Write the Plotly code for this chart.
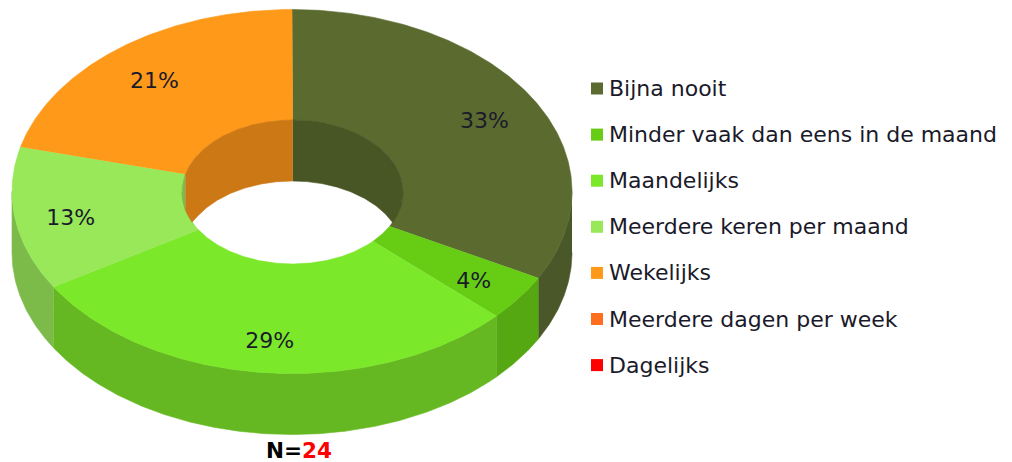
import math
import numpy as np
import plotly.graph_objects as go

categories = ["Bijna nooit", "Minder vaak dan eens in de maand", "Maandelijks",
              "Meerdere keren per maand", "Wekelijks", "Meerdere dagen per week", "Dagelijks"]
counts = [8, 1, 7, 3, 5, 0, 0]
top_colors = ["#5B6B30", "#66CC14", "#7CE82A", "#98E85A", "#FF991A", "#FF6E1F", "#FF0000"]
outer_wall_colors = ["#4A5728", "#55A812", "#66B822", "#7CBB4A", "#CC7814", "#CC5818", "#CC0000"]
inner_wall_colors = ["#485524", "#55A812", "#66B822", "#7CBB4A", "#CC7814", "#CC5818", "#CC0000"]

CX, CY, RX, RY = 292.0, 191.5, 280.0, 182.0
IRX, IRY, ICX, ICY = 110.5, 72.0, 292.5, 192.0
DEPTH = 61.0
FONT = "DejaVu Sans"
TEXT = "#1a1a2a"

total = sum(counts)
raw_edges = np.concatenate([[0], np.cumsum(counts)]) / total * 360.0
# slight perspective skew of the projected angles
edges = raw_edges - 1.1 * (1 - np.cos(np.radians(raw_edges)))


def arc(a0, a1, n=None):
    n = n or max(2, int(abs(a1 - a0) * 2) + 2)
    return np.radians(np.linspace(a0, a1, n))


def add_poly(fig, xs, ys, color):
    fig.add_trace(go.Scatter(x=xs, y=ys, mode="lines", fill="toself", fillcolor=color,
                             line=dict(color=color, width=0.6), hoverinfo="skip", showlegend=False))


fig = go.Figure()

# outer side walls (front half only)
for i, v in enumerate(counts):
    a0, a1 = max(edges[i], 90), min(edges[i + 1], 270)
    if v and a1 > a0:
        t = arc(a0, a1)
        x = CX + RX * np.sin(t)
        y = CY - RY * np.cos(t)
        add_poly(fig, np.r_[x, x[::-1]], np.r_[y, (y + DEPTH)[::-1]], outer_wall_colors[i])

# top surface of the ring
for i, v in enumerate(counts):
    if v:
        t = arc(edges[i], edges[i + 1])
        xo, yo = CX + RX * np.sin(t), CY - RY * np.cos(t)
        xi, yi = ICX + IRX * np.sin(t), ICY - IRY * np.cos(t)
        add_poly(fig, np.r_[xo, xi[::-1]], np.r_[yo, yi[::-1]], top_colors[i])

# inner wall seen through the hole
LIM = np.degrees(np.arccos(-(DEPTH / 2) / IRY))
for i, v in enumerate(counts):
    if not v:
        continue
    for shift in (0, -360):
        a0, a1 = max(edges[i] + shift, -LIM), min(edges[i + 1] + shift, LIM)
        if a1 > a0:
            t = arc(a0, a1)
            x = ICX + IRX * np.sin(t)
            y = ICY - IRY * np.cos(t)
            c = np.abs(np.cos(t))
            y2 = np.minimum(ICY + DEPTH - IRY * c, ICY + IRY * c)
            y2 = np.maximum(y2, y)
            add_poly(fig, np.r_[x, x[::-1]], np.r_[y, y2[::-1]], inner_wall_colors[i])

# percentage labels
lab_x, lab_y, lab_t = [], [], []
for i, v in enumerate(counts):
    if v:
        m = np.radians((edges[i] + edges[i + 1]) / 2)
        lab_x.append(CX + 0.8 * RX * np.sin(m))
        lab_y.append(CY + 6 - 0.8 * RY * np.cos(m))
        lab_t.append(f"{math.floor(100 * v / total + 0.5)}%")
fig.add_trace(go.Scatter(x=lab_x, y=lab_y, text=lab_t, mode="text", textposition="middle center",
                         textfont=dict(family=FONT, size=22, color=TEXT), hoverinfo="skip", showlegend=False))

# legend
rows = [88.5 + 46.1 * i for i in range(len(categories))]
fig.add_trace(go.Scatter(x=[597] * len(rows), y=rows, mode="markers",
                         marker=dict(symbol="square", size=12, color=top_colors, line=dict(width=0)),
                         hoverinfo="skip", showlegend=False))
annotations = [dict(x=607, y=r, text=c, xref="x", yref="y", xanchor="left", yanchor="middle", showarrow=False,
                    font=dict(family=FONT, size=22, color=TEXT))
               for r, c in zip(rows, categories)]
annotations.append(dict(x=299, y=450.5, xref="x", yref="y", xanchor="center", yanchor="middle", showarrow=False,
                        text=f"<b>N=<span style='color:#FF0000'>{total}</span></b>",
                        font=dict(family=FONT, size=21.5, color="#000000")))

fig.update_layout(
    width=1012, height=462, margin=dict(l=0, r=0, t=0, b=0),
    paper_bgcolor="white", plot_bgcolor="white", showlegend=False,
    xaxis=dict(range=[0, 1012], visible=False, fixedrange=True),
    yaxis=dict(range=[462, 0], visible=False, fixedrange=True),
    annotations=annotations,
)
fig.write_html("out.html", config=dict(displayModeBar=False),
               post_script="document.body.style.margin='0';")
